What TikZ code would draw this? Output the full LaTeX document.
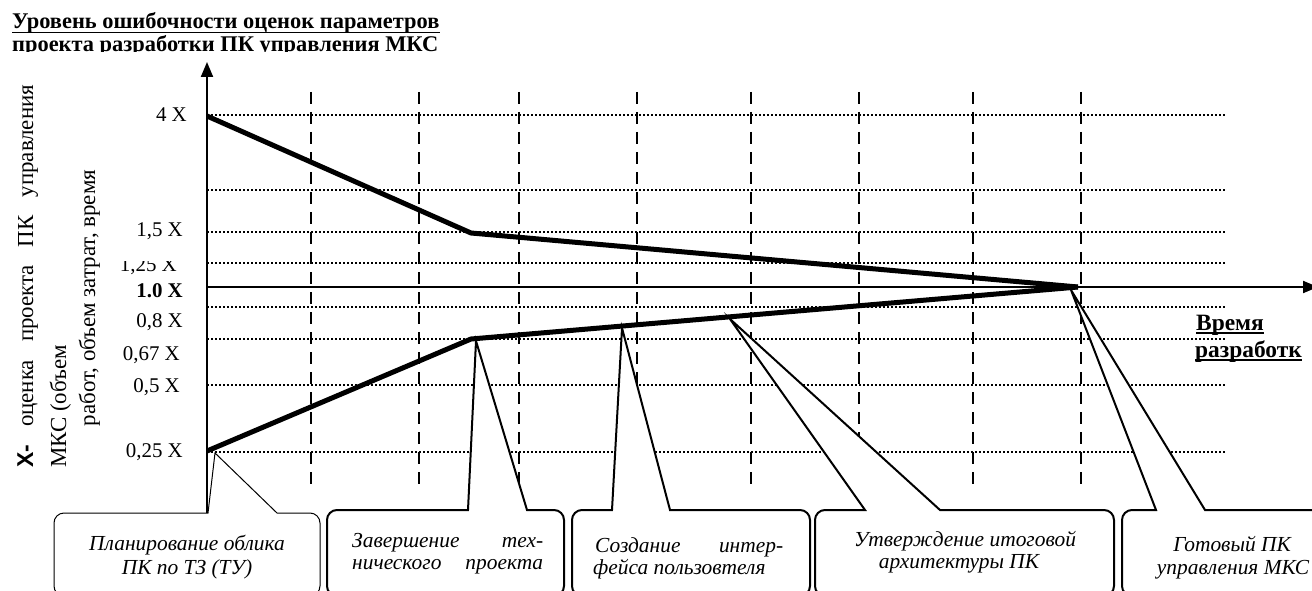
\documentclass[tikz,border=0pt]{standalone}
\usepackage{fontspec}
\usepackage{graphicx}
\setmainfont{Liberation Serif}
\newfontfamily\axsans{Liberation Sans}
\newfontfamily\noteit{Liberation Serif Italic}
\usetikzlibrary{arrows.meta,calc}

% closed callout outline: left, right, top, base-left, apex, base-right
\newcommand{\calloutpath}[6]{%
  (#1,{#3+10}) arc[start angle=180,end angle=270,radius=10]
  -- (#4,#3) -- (#5) -- (#6,#3)
  -- ({#2-10},#3) arc[start angle=270,end angle=360,radius=10]
  -- (#2,586) arc[start angle=0,end angle=90,radius=10]
  -- ({#1+10},596) arc[start angle=90,end angle=180,radius=10] -- cycle}

\begin{document}
\begin{tikzpicture}[x=1bp,y=-1bp,
  grid/.style={line width=1.3bp, dash pattern=on 1.6bp off 2.4bp},
  vline/.style={line width=1.5bp, dash pattern=on 12bp off 8bp},
  axis/.style={line width=2bp, -{Triangle[length=15bp,width=12bp]}},
  trend/.style={line width=5bp},
  callout/.style={line width=2bp, fill=white},
  thincallout/.style={line width=1bp, fill=white},
  lbl/.style={inner sep=0pt, anchor=base east, font=\fontsize{21}{24}\selectfont},
  note/.style={inner sep=0pt, font=\noteit\fontsize{21.5}{24}\selectfont},
  head/.style={inner sep=0pt, anchor=base west, font=\fontsize{22.5}{25}\selectfont\bfseries},
  rot/.style={inner sep=0pt, rotate=90, font=\fontsize{23}{26}\selectfont},
]
\clip (0,0) rectangle (1312,591);

% key points of the chart
\coordinate (o)   at (207,287);
\coordinate (ybot) at (207,513);
\coordinate (ytop) at (207,62);
\coordinate (xend) at (1318,287);
\coordinate (u0) at (207,116);
\coordinate (u1) at (471,233);
\coordinate (m)  at (1078,287);
\coordinate (l0) at (207,451);
\coordinate (l1) at (471,339);
\coordinate (p1) at (215,453);
\coordinate (p2) at (476,341);
\coordinate (p3) at (622,328);
\coordinate (p4) at (730,319);
\coordinate (p5) at (1071,290);

% horizontal dotted levels
\foreach \y in {115,190,232,263,307,339,385,452}
  \draw[grid] (207,\y) -- (1227,\y);

% vertical dashed milestones
\foreach \x in {311,419,519,637,751,859,973,1081}
  \draw[vline] (\x,92) -- (\x,488);

% callouts
\draw[thincallout] \calloutpath{54}{320}{513}{208}{p1}{277};
\draw[callout] \calloutpath{327}{564}{510}{468}{p2}{527};
\draw[callout] \calloutpath{572}{810}{510}{612}{p3}{670};
\draw[callout] \calloutpath{815}{1114}{510}{865}{p4}{940};
\draw[callout] \calloutpath{1122}{1340}{510}{1156}{p5}{1205};

% axes
\draw[axis] (ybot) -- (ytop);
\draw[axis] (o) -- (xend);

% estimate bounds
\draw[trend] (u0) -- (u1) -- (m);
\draw[trend] (l0) -- (l1) -- (m);

% level labels
\node[lbl] at (187,122) {4 X};
\node[lbl] at (183,236) {1,5 X};
\begin{scope}
  \clip (100,261) rectangle (200,280);
  \node[lbl] at (177,271) {1,25 X};
\end{scope}
\node[lbl, font=\fontsize{21}{24}\selectfont\bfseries] at (183,297) {1.0 X};
\node[lbl] at (183,327) {0,8 X};
\node[lbl] at (180,360) {0,67 X};
\node[lbl] at (180,392) {0,5 X};
\node[lbl] at (183,457) {0,25 X};

% title
\node[head] (t1) at (12,29) {Уровень ошибочности оценок параметров};
\draw[line width=1.3bp] ($(t1.base west)+(0,3.5)$) -- ($(t1.base east)+(0,3.5)$);
\begin{scope}
  \clip (0,33) rectangle (600,51.5);
  \node[head] (t2) at (12,52) {проекта разработки ПК управления МКС};
\end{scope}

% time axis caption
\node[head, font=\fontsize{23.5}{26}\selectfont\bfseries] (w1) at (1196,330) {Время};
\draw[line width=1.3bp] ($(w1.base west)+(0,3)$) -- ($(w1.base east)+(0,3)$);
\node[head, font=\fontsize{23.5}{26}\selectfont\bfseries] (w2) at (1195,357) {разработк};
\draw[line width=1.3bp] ($(w2.base west)+(0,3)$) -- ($(w2.base east)+(0,3)$);

% value axis caption
\node[rot, anchor=base west] (a1) at (33,468) {\hbox to 383bp{{\axsans\bfseries X-}\hfill оценка\hfill проекта\hfill ПК\hfill управления}};
\node[rot, anchor=base west] (a2) at (66,468) {МКС (объем};
\node[rot, anchor=base] (a3) at (95,298) {работ, объем затрат, время};

% callout texts
\node[note, anchor=base] (c1a) at (187,550) {Планирование облика};
\node[note, anchor=base] (c1b) at (187,574) {ПК по ТЗ (ТУ)};
\node[note, anchor=base west] (c2a) at (352,547) {\hbox to 191bp{Завершение\hfill тех-}};
\node[note, anchor=base west] (c2b) at (352,569) {\hbox to 191bp{нического\hfill проекта}};
\node[note, anchor=base west] (c3a) at (595,552) {\hbox to 188bp{Создание\hfill интер-}};
\node[note, anchor=base west] (c3b) at (593,574) {фейса пользовтеля};
\node[note, anchor=base] (c4a) at (965,546) {Утверждение итоговой};
\node[note, anchor=base] (c4b) at (959,568) {архитектуры ПК};
\node[note, anchor=base] (c5a) at (1232,551) {Готовый ПК};
\node[note, anchor=base] (c5b) at (1233,574) {управления МКС};
\end{tikzpicture}
\end{document}
